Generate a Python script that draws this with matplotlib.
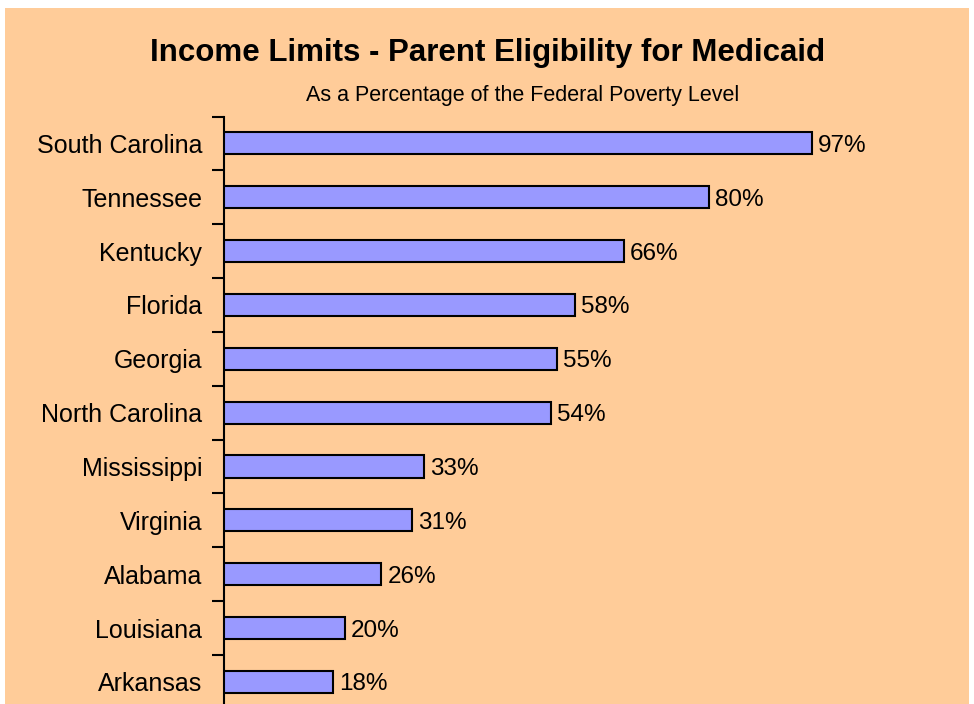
import matplotlib
matplotlib.use("Agg")
import matplotlib.pyplot as plt
from matplotlib.patches import Rectangle
import numpy as np

plt.rcParams['font.family'] = ['Liberation Sans', 'DejaVu Sans']

states = ["South Carolina", "Tennessee", "Kentucky", "Florida", "Georgia",
          "North Carolina", "Mississippi", "Virginia", "Alabama", "Louisiana", "Arkansas"]
values = [97, 80, 66, 58, 55, 54, 33, 31, 26, 20, 18]

W, H = 974, 704
fig = plt.figure(figsize=(W / 100, H / 100), dpi=100)
fig.patch.set_facecolor("white")
bg = "#FFCC99"
fig.patches.append(Rectangle((5 / W, 0), (969 - 5) / W, (H - 8) / H,
                             transform=fig.transFigure, facecolor=bg, edgecolor="none", zorder=-5))

ax_left, ax_right = 224, 969
ax_top, ax_bottom = 116.5, 704
ax = fig.add_axes([ax_left / W, 1 - ax_bottom / H, (ax_right - ax_left) / W, (ax_bottom - ax_top) / H])
ax.set_zorder(2)
ax.set_facecolor(bg)

y = np.arange(len(states))
ax.barh(y, values, height=0.41, color="#9999FF", edgecolor="black", linewidth=1.5, zorder=3)
for yi, v in zip(y, values):
    ax.text(v + 1.0, yi, f"{v}%", va="center_baseline", ha="left", fontsize=17.5, color="black")

ax.set_xlim(0, 123)
ax.set_ylim(10.41, -0.5)
for s in ["top", "right", "bottom"]:
    ax.spines[s].set_visible(False)
ax.spines["left"].set_linewidth(1.5)
ax.set_xticks([])
ax.set_yticks(y)
ax.set_yticklabels(states, fontsize=18)
ax.tick_params(axis="y", which="major", length=0, pad=15.8)
ax.set_yticks(np.arange(len(states)) - 0.5, minor=True)
ax.tick_params(axis="y", which="minor", length=9, width=1.5, direction="out")

fig.text(488 / W, 1 - 53 / H, "Income Limits - Parent Eligibility for Medicaid",
         ha="center", va="center", fontsize=22.5, fontweight="bold", zorder=3)
fig.text(523 / W, 1 - 95 / H, "As a Percentage of the Federal Poverty Level",
         ha="center", va="center", fontsize=15.5, zorder=3)

fig.savefig("out.png", dpi=100, facecolor=fig.get_facecolor())
